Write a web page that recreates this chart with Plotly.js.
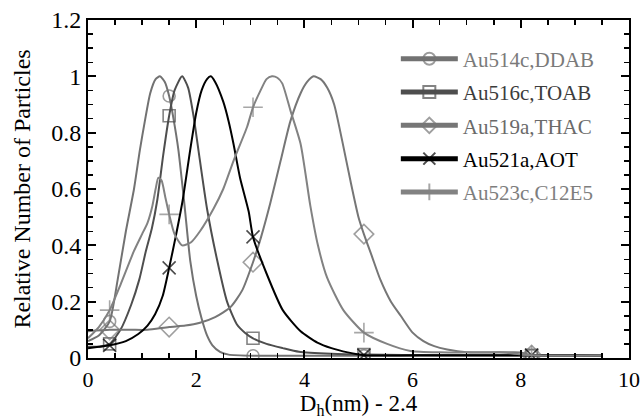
<!DOCTYPE html>
<html>
<head>
<meta charset="utf-8">
<script src="https://cdn.plot.ly/plotly-3.0.1.min.js"></script>
<style>html,body{margin:0;padding:0;background:#fff;}#chart{width:641px;height:419px;}</style>
</head>
<body>
<div id="chart"></div>
<script>
// Marker positions (x values where each series shows its symbol)
const MARKER_X = [0.4, 1.5, 3.05, 5.1, 8.2];

// Au514c,DDAB
const DDAB_X = [0, 0.2, 0.4, 0.55, 0.7, 0.85, 0.96, 1.05, 1.15, 1.25, 1.33, 1.42, 1.5, 1.58, 1.67, 1.78, 1.89, 2.0, 2.1, 2.2, 2.3, 2.44, 2.6, 3.05, 4.0, 5.1, 6.5, 8.2, 9.5];
const DDAB_Y = [0.06, 0.08, 0.13, 0.28, 0.45, 0.6, 0.74, 0.84, 0.94, 0.99, 1.0, 0.98, 0.93, 0.85, 0.74, 0.55, 0.345, 0.22, 0.14, 0.08, 0.045, 0.022, 0.012, 0.008, 0.008, 0.008, 0.008, 0.008, 0.008];

// Au516c,TOAB
const TOAB_X = [0, 0.2, 0.4, 0.6, 0.8, 0.95, 1.07, 1.18, 1.28, 1.39, 1.5, 1.6, 1.74, 1.85, 1.95, 2.04, 2.2, 2.39, 2.57, 2.75, 2.9, 3.05, 3.3, 3.6, 3.9, 4.5, 5.1, 6.5, 8.2, 9.5];
const TOAB_Y = [0.04, 0.04, 0.05, 0.1, 0.19, 0.28, 0.38, 0.46, 0.56, 0.72, 0.86, 0.95, 1.0, 0.96, 0.86, 0.74, 0.53, 0.345, 0.2, 0.12, 0.09, 0.07, 0.05, 0.035, 0.022, 0.015, 0.012, 0.01, 0.01, 0.01];

// Au519a,THAC
const THAC_X = [0, 0.4, 0.8, 1.1, 1.5, 1.8, 2.07, 2.35, 2.63, 2.85, 3.05, 3.2, 3.37, 3.56, 3.74, 3.93, 4.05, 4.17, 4.3, 4.42, 4.55, 4.7, 4.85, 5.0, 5.1, 5.25, 5.4, 5.6, 5.78, 6.0, 6.2, 6.4, 6.64, 7.0, 7.6, 8.0, 8.2, 9.5];
const THAC_Y = [0.095, 0.1, 0.1, 0.1, 0.11, 0.115, 0.125, 0.145, 0.18, 0.24, 0.34, 0.43, 0.55, 0.70, 0.84, 0.94, 0.98, 1.0, 0.99, 0.96, 0.9, 0.77, 0.63, 0.5, 0.44, 0.36, 0.28, 0.2, 0.15, 0.09, 0.06, 0.042, 0.03, 0.02, 0.02, 0.02, 0.01, 0.01];

// Au521a,AOT
const AOT_X = [0, 0.2, 0.4, 0.7, 0.93, 1.1, 1.24, 1.38, 1.5, 1.62, 1.75, 1.89, 2.0, 2.1, 2.2, 2.27, 2.35, 2.5, 2.6, 2.69, 2.81, 2.97, 3.05, 3.3, 3.6, 3.93, 4.24, 4.5, 4.8, 5.1, 6.5, 8.2, 9.5];
const AOT_Y = [0.035, 0.04, 0.045, 0.06, 0.085, 0.115, 0.155, 0.22, 0.32, 0.43, 0.56, 0.74, 0.87, 0.95, 0.99, 1.0, 0.98, 0.91, 0.84, 0.76, 0.64, 0.52, 0.43, 0.3, 0.17, 0.095, 0.055, 0.035, 0.02, 0.01, 0.01, 0.01, 0.01];

// Au523c,C12E5
const C12E5_X = [0, 0.2, 0.4, 0.6, 0.85, 1.0, 1.1, 1.19, 1.25, 1.3, 1.36, 1.43, 1.5, 1.6, 1.74, 1.9, 2.07, 2.32, 2.5, 2.69, 2.94, 3.05, 3.19, 3.3, 3.4, 3.5, 3.59, 3.74, 3.93, 4.11, 4.25, 4.42, 4.72, 5.1, 5.53, 5.96, 6.5, 7.0, 7.6, 8.2, 9.5];
const C12E5_Y = [0.07, 0.11, 0.17, 0.26, 0.38, 0.44, 0.48, 0.54, 0.6, 0.64, 0.63, 0.57, 0.51, 0.44, 0.40, 0.41, 0.45, 0.53, 0.6, 0.70, 0.82, 0.89, 0.95, 0.99, 1.0, 0.995, 0.975, 0.88, 0.76, 0.54, 0.4, 0.285, 0.17, 0.09, 0.05, 0.025, 0.02, 0.02, 0.02, 0.01, 0.01];

const SERIES_NAMES = ['Au514c,DDAB', 'Au516c,TOAB', 'Au519a,THAC', 'Au521a,AOT', 'Au523c,C12E5'];

const series = [
  {name: SERIES_NAMES[0], x: DDAB_X, y: DDAB_Y, color: '#727272', text: '#7a7a7a', symbol: 'circle-open', size: 12},
  {name: SERIES_NAMES[1], x: TOAB_X, y: TOAB_Y, color: '#4e4e4e', text: '#3c3c3c', symbol: 'square-open', size: 12},
  {name: SERIES_NAMES[2], x: THAC_X, y: THAC_Y, color: '#767676', text: '#6a6a6a', symbol: 'diamond-open', size: 15},
  {name: SERIES_NAMES[3], x: AOT_X, y: AOT_Y, color: '#000000', text: '#000000', symbol: 'x-thin-open', size: 13},
  {name: SERIES_NAMES[4], x: C12E5_X, y: C12E5_Y, color: '#828282', text: '#7e7e7e', symbol: 'cross-thin-open', size: 14}
];

const traces = series.map((s, i) => ({
  type: 'scatter',
  mode: 'lines+markers',
  x: s.x,
  y: s.y,
  name: '<span style="color:' + s.text + '">' + s.name + '</span>',
  legendgroup: 'g' + i,
  line: {color: s.color, width: 2, shape: 'spline', smoothing: 0.6},
  marker: {
    symbol: s.symbol,
    size: s.x.map(v => MARKER_X.some(m => Math.abs(m - v) < 1e-9) ? s.size : 0),
    color: s.color,
    line: {color: s.color, width: 1.6}
  }
}));

const FONT = 'Liberation Serif';

const axisCommon = {
  showline: true, linecolor: '#000', linewidth: 2, mirror: 'ticks',
  ticks: 'inside', ticklen: 8, tickwidth: 2, tickcolor: '#000',
  showgrid: false, zeroline: false,
  ticklabeloverflow: 'allow'
};

const layout = {
  width: 641, height: 419,
  margin: {l: 88, r: 12, t: 20, b: 61},
  paper_bgcolor: '#fff', plot_bgcolor: '#fff',
  font: {family: FONT, size: 21, color: '#000'},
  showlegend: true,
  legend: {
    x: 0.569, y: 0.945, xanchor: 'left', yanchor: 'top',
    bgcolor: 'rgba(0,0,0,0)', borderwidth: 0,
    itemwidth: 57, itemsizing: 'constant',
    tracegroupgap: 3,
    font: {family: FONT, size: 21}
  },
  xaxis: Object.assign({}, axisCommon, {
    range: [0, 10], dtick: 2, tick0: 0,
    tickfont: {family: FONT, size: 22, color: '#000'},
    minor: {dtick: 0.5, ticklen: 5, tickwidth: 1.5, ticks: 'inside', tickcolor: '#000'},
    ticklabelstandoff: 1,
    title: {text: 'D<sub>h</sub>(nm) - 2.4', font: {family: FONT, size: 23, color: '#000'}, standoff: 7}
  }),
  yaxis: Object.assign({}, axisCommon, {
    range: [0, 1.2], dtick: 0.2, tick0: 0,
    tickfont: {family: FONT, size: 24, color: '#000'},
    minor: {dtick: 0.05, ticklen: 5, tickwidth: 1.5, ticks: 'inside', tickcolor: '#000'},
    ticklabelstandoff: 0,
    title: {text: 'Relative Number of Particles', font: {family: FONT, size: 24, color: '#000'}, standoff: 14}
  })
};

Plotly.newPlot('chart', traces, layout, {displayModeBar: false, staticPlot: true});
</script>
</body>
</html>
